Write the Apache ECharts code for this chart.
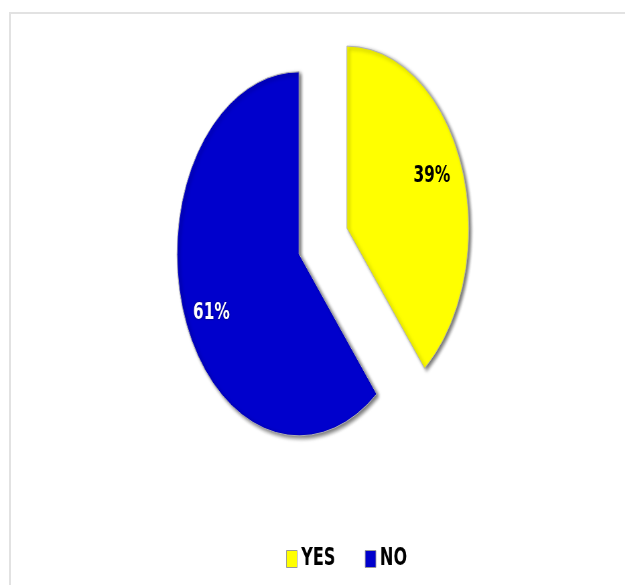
<!DOCTYPE html>
<html>
<head>
<meta charset="utf-8">
<script src="https://cdn.jsdelivr.net/npm/echarts@6/dist/echarts.min.js"></script>
<style>
  html, body { margin: 0; padding: 0; background: #fff; overflow: hidden; }
  #frame { position: absolute; left: 9px; top: 12px; width: 640px; height: 600px;
           border-top: 2px solid #e2e2e2; border-left: 2px solid #e2e2e2; }
  /* the source picture is squeezed sideways, so draw wide and squeeze */
  #main { position: absolute; left: 0; top: 0; width: 933px; height: 585px;
          transform: scaleX(0.67); transform-origin: 0 0; }
</style>
</head>
<body>
<div id="frame"></div>
<div id="main"></div>
<script>
const categories = ['YES', 'NO'];
const values = [39, 61];
const colors = ['#FFFF00', '#0000CC'];
const labelColors = ['#000000', '#FFFFFF'];

const chart = echarts.init(document.getElementById('main'));

const center = [482, 241];
const offset = 38;

const option = {
  animation: false,
  legend: {
    data: categories,
    left: 422,
    top: 541,
    itemWidth: 16,
    itemHeight: 17,
    itemGap: 44,
    icon: 'rect',
    itemStyle: { borderColor: '#999', borderWidth: 1, shadowBlur: 0 },
    textStyle: { fontFamily: 'DejaVu Sans', fontWeight: 'bold', fontSize: 24, color: '#000', lineHeight: 26, padding: [0, 0, 0, 1] },
    selectedMode: false
  },
  series: [
    {
      type: 'pie',
      center: center,
      radius: 182,
      startAngle: 90,
      clockwise: true,
      selectedMode: 'multiple',
      selectedOffset: offset,
      silent: true,
      label: { show: false },
      labelLine: { show: false },
      data: categories.map((name, i) => ({
        name: name,
        value: values[i],
        selected: true,
        itemStyle: {
          color: colors[i],
          borderColor: '#b0b0b0',
          borderWidth: 1,
          shadowBlur: 4,
          shadowOffsetX: 3,
          shadowOffsetY: 2,
          shadowColor: 'rgba(0,0,0,0.55)'
        }
      }))
    },
    {
      // transparent ring only used to place the percent labels
      type: 'pie',
      center: center,
      radius: [110, 164],
      startAngle: 90,
      clockwise: true,
      selectedMode: 'multiple',
      selectedOffset: offset,
      silent: true,
      itemStyle: { color: 'transparent' },
      labelLine: { show: false },
      labelLayout: function (params) {
        return params.dataIndex === 0 ? { dx: -5, dy: -5 } : { dx: 1, dy: 12 };
      },
      data: categories.map((name, i) => ({
        name: name,
        value: values[i],
        selected: true,
        label: {
          show: true,
          position: 'inside',
          formatter: '{d}%',
          fontFamily: 'DejaVu Sans',
          fontWeight: 'bold',
          fontSize: 23,
          color: labelColors[i],
          textShadowColor: i === 0 ? 'transparent' : 'rgba(0,0,0,0.6)',
          textShadowBlur: 2
        }
      }))
    }
  ]
};

chart.setOption(option);
</script>
</body>
</html>
